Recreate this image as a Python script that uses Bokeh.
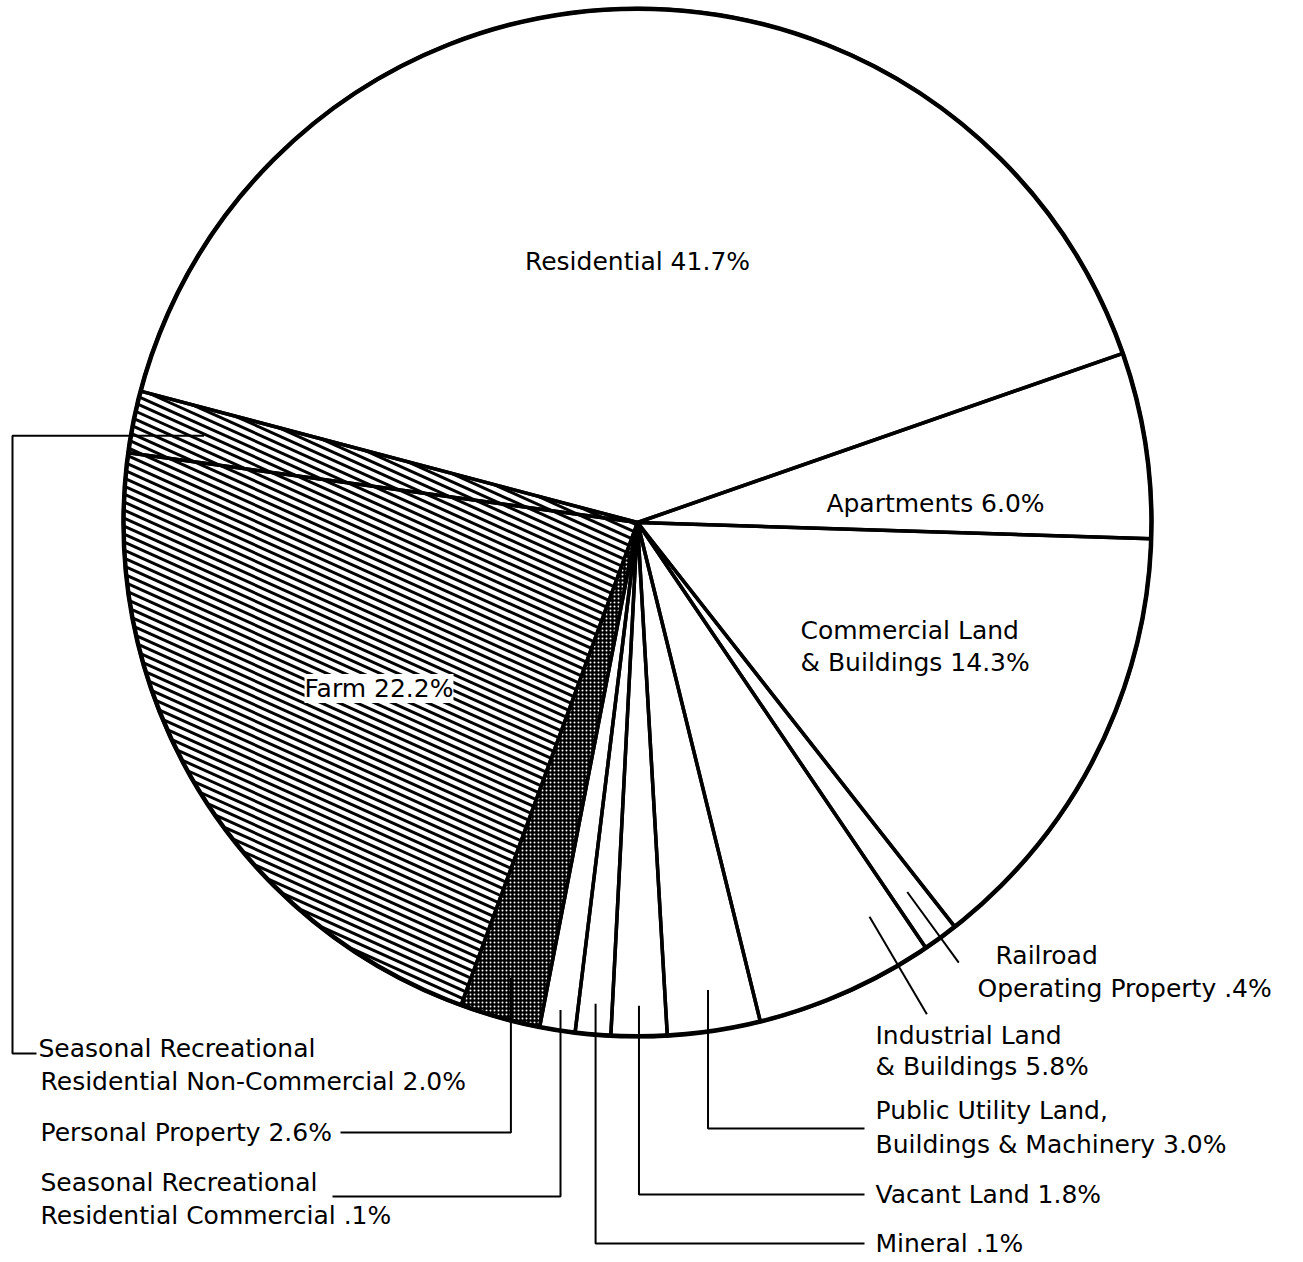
import math
import numpy as np
from bokeh.plotting import figure
from bokeh.models import Range1d, Label
from bokeh.embed import file_html
from bokeh.resources import INLINE
from bokeh.core.properties import value

# ---------------- data (slices listed clockwise from the top) ----------------
categories = ["Residential", "Apartments", "Commercial Land & Buildings",
              "Railroad Operating Property", "Industrial Land & Buildings",
              "Public Utility Land, Buildings & Machinery", "Vacant Land", "Mineral",
              "Seasonal Recreational Residential Commercial", "Personal Property",
              "Farm", "Seasonal Recreational Residential Non-Commercial"]
shares = [41.7, 6.0, 14.3, 0.4, 5.8, 3.0, 1.8, 0.1, 0.1, 2.6, 22.2, 2.0]
label_lines = [["Residential"], ["Apartments"], ["Commercial Land", "& Buildings"],
               ["Railroad", "Operating Property"], ["Industrial Land", "& Buildings"],
               ["Public Utility Land,", "Buildings & Machinery"], ["Vacant Land"], ["Mineral"],
               ["Seasonal Recreational", "Residential Commercial"], ["Personal Property"],
               ["Farm"], ["Seasonal Recreational", "Residential Non-Commercial"]]

# ---------------- geometry / layout ----------------
FIG_W, FIG_H = 1300, 1260
PAGE_H = 1262


def Y(sy):
    return PAGE_H - sy


CX, CY, R = 637.0, Y(522), 514.0
MIN_DEG = 4.0          # smallest drawn angle so tiny slices stay visible
RES_MID = 92.2         # residential slice centred near the top

vals = np.array(shares, float)
raw = vals / vals.sum() * 360.0
small = raw < MIN_DEG
disp = np.where(small, MIN_DEG, raw * (360.0 - MIN_DEG * small.sum()) / raw[~small].sum())
hi = RES_MID + disp[0] / 2 - np.concatenate([[0.0], np.cumsum(disp)[:-1]])
lo = hi - disp


def mid_angle(i, frac=0.5):
    return hi[i] - frac * disp[i]


def polar(a, rf):
    return (CX + rf * R * math.cos(math.radians(a)), CY + rf * R * math.sin(math.radians(a)))


def fmt(v):
    s = f"{v:.1f}"
    return s[1:] if s.startswith("0.") else s


p = figure(width=FIG_W, height=FIG_H, x_range=Range1d(0, FIG_W), y_range=Range1d(PAGE_H - FIG_H, PAGE_H),
           output_backend="svg", toolbar_location=None, min_border=0,
           x_axis_location=None, y_axis_location=None)
p.xgrid.visible = False
p.ygrid.visible = False
p.outline_line_color = None
p.background_fill_color = "white"
p.border_fill_color = "white"

# fills
plain = [i for i in range(len(shares)) if i != 9]
p.wedge(x=CX, y=CY, radius=R, start_angle=np.radians(lo[plain]), end_angle=np.radians(hi[plain]),
        direction="anticlock", fill_color="white", line_color=None)
p.wedge(x=CX, y=CY, radius=R, start_angle=math.radians(lo[9]), end_angle=math.radians(hi[9]),
        direction="anticlock", fill_color="black", line_color=None,
        hatch_pattern="dot", hatch_color="white", hatch_scale=4, hatch_weight=0.6)


# diagonal line shading for Farm and the non-commercial seasonal slice
def hatch_segments(i, slope, step, rr):
    n = math.hypot(1.0, slope)
    dx, dy = 1.0 / n, -slope / n
    xs, ys = [], []
    for c in np.arange(CY - R - 50, CY + R + slope * 1400, step):
        px, py = 0.0 - CX, c - CY
        b = dx * px + dy * py
        cc = px * px + py * py - rr * rr
        disc = b * b - cc
        if disc <= 0:
            continue
        t0, t1 = -b - math.sqrt(disc), -b + math.sqrt(disc)
        ok = True
        for ang, sg in ((lo[i], 1.0), (hi[i], -1.0)):
            ux, uy = math.cos(math.radians(ang)), math.sin(math.radians(ang))
            k0 = sg * (ux * py - uy * px)
            k1 = sg * (ux * dy - uy * dx)
            if abs(k1) < 1e-12:
                if k0 < 0:
                    ok = False
            elif k1 > 0:
                t0 = max(t0, -k0 / k1)
            else:
                t1 = min(t1, -k0 / k1)
        if not ok or t1 <= t0:
            continue
        xs.append([t0 * dx, t1 * dx])
        ys.append([c + t0 * dy, c + t1 * dy])
    return xs, ys


for idx in (10, 11):
    hx, hy = hatch_segments(idx, 0.45, 8.0, R - 1)
    p.multi_line(hx, hy, line_color="black", line_width=3.0)

# leader lines
LBL_X = 875
LINE_END = 864
MIN_Y = 1243
leaders = []
a = polar(mid_angle(11), 0.86)
leaders.append([a, (12, a[1]), (12, Y(1053)), (36, Y(1053))])
a = polar(mid_angle(9), 0.92)
leaders.append([a, (a[0], Y(1132)), (340, Y(1132))])
a = polar(mid_angle(8), 0.96)
leaders.append([a, (a[0], Y(1196)), (332, Y(1196))])
a = polar(mid_angle(7), 0.94)
leaders.append([a, (a[0], Y(MIN_Y)), (LINE_END, Y(MIN_Y))])
a = polar(mid_angle(6), 0.94)
leaders.append([a, (a[0], Y(1194)), (LINE_END, Y(1194))])
a = polar(mid_angle(5), 0.92)
leaders.append([a, (a[0], Y(1128)), (LINE_END, Y(1128))])
leaders.append([polar(mid_angle(4, 0.18), 0.89), polar(mid_angle(4, 0.18), 1.11)])
leaders.append([polar(mid_angle(3), 0.89), polar(mid_angle(3), 1.06)])
p.multi_line([[q[0] for q in L] for L in leaders], [[q[1] for q in L] for L in leaders],
             line_color="black", line_width=2)

# slice outlines and rim
p.wedge(x=CX, y=CY, radius=R, start_angle=np.radians(lo), end_angle=np.radians(hi),
        direction="anticlock", fill_color=None, line_color="black", line_width=3.5)
p.circle(x=CX, y=CY, radius=R, fill_color=None, line_color="black", line_width=4.5)

# labels: (x of each line, y of first line, line gap, align)
layout = {
    0: ([637], 261, 0, "center"),
    1: ([935], 503, 0, "center"),
    2: ([800, 800], 630, 32, "left"),
    3: ([995, 977], 955, 33, "left"),
    4: ([LBL_X, LBL_X], 1035, 31, "left"),
    5: ([LBL_X, LBL_X], 1110, 34, "left"),
    6: ([LBL_X], 1194, 0, "left"),
    7: ([LBL_X], MIN_Y, 0, "left"),
    8: ([40, 40], 1182, 33, "left"),
    9: ([40], 1132, 0, "left"),
    11: ([38, 40], 1048, 33, "left"),
}
FONT = "DejaVu Sans"
FS = "25px"
for i, (xs_, y0, gap, al) in layout.items():
    lines = list(label_lines[i])
    lines[-1] = lines[-1] + " " + fmt(shares[i]) + "%"
    for k, t in enumerate(lines):
        p.text(x=[xs_[k]], y=[Y(y0 + k * gap)], text=[t], text_align=al,
               text_baseline="middle", text_font=value(FONT), text_font_size=FS,
               text_color="black")

farm_text = label_lines[10][0] + " " + fmt(shares[10]) + "%"
p.add_layout(Label(x=304, y=Y(688), text=farm_text, text_baseline="middle",
                   text_font=FONT, text_font_size=FS, text_color="black",
                   background_fill_color="white", background_fill_alpha=1.0))

open("out.html", "w").write(file_html(p, INLINE))
